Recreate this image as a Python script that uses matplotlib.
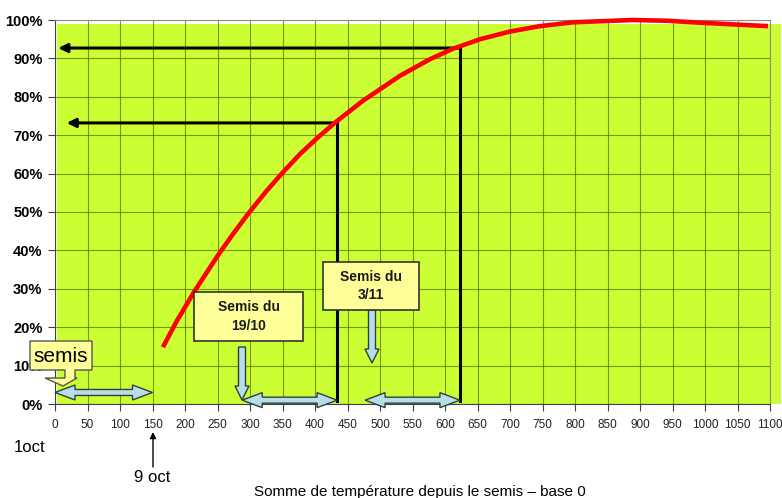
import matplotlib
matplotlib.use("Agg")
import matplotlib.pyplot as plt
from matplotlib.patches import Polygon, Rectangle
from matplotlib.transforms import IdentityTransform
from matplotlib.ticker import PercentFormatter, MultipleLocator

plt.rcParams['font.family'] = ['Liberation Sans', 'DejaVu Sans']

# data
curve_x = [166, 187, 214, 249, 274, 297, 326, 351, 377, 403, 431, 474, 531, 577,
           612, 654, 700, 746, 797, 889, 942, 992, 1097]
curve_y = [0.148, 0.215, 0.292, 0.383, 0.443, 0.495, 0.556, 0.604, 0.651, 0.692, 0.733, 0.790,
           0.855, 0.898, 0.925, 0.950, 0.970, 0.984, 0.994, 1.0, 0.998, 0.993, 0.984]

# sowing periods: (start, end, height of double arrow)
periods = [(0, 150, 0.03), (288, 434, 0.01), (477, 623, 0.01)]
# readings on the curve: (x, y, arrow end x)
readings = [(434, 0.732, 18), (623, 0.927, 5)]
boxes = [("Semis du\n19/10", 194, 292, 303, 341), ("Semis du\n3/11", 323, 262, 419, 310)]
down_arrows = [(242, 347, 400), (372, 310, 363)]

W, H = 782, 498
fig = plt.figure(figsize=(W / 100, H / 100), dpi=100)
ax = fig.add_axes([55 / W, (H - 404) / H, 715 / W, 384 / H])
ax.set_xlim(0, 1100)
ax.set_ylim(0, 1)
ax.set_facecolor('none')

# green plot area (slightly offset as in the original), behind the axes
fig.patches.append(Rectangle((57, H - 404), 724, 380, transform=IdentityTransform(),
                             facecolor='#CCFF33', edgecolor='none', zorder=-1))

ax.xaxis.set_major_locator(MultipleLocator(50))
ax.yaxis.set_major_locator(MultipleLocator(0.1))
ax.yaxis.set_major_formatter(PercentFormatter(1.0, decimals=0))
ax.grid(True, color='#556b00', linewidth=0.8, alpha=0.7)
ax.set_axisbelow(True)
for s in ['top', 'right']:
    ax.spines[s].set_color('#8c8c8c')
for s in ['left', 'bottom']:
    ax.spines[s].set_color('#404040')
ax.tick_params(axis='y', labelsize=10.5, length=5, color='#404040', pad=4)
ax.tick_params(axis='x', labelsize=8.5, length=5, color='#404040', pad=6, labelcolor='#222222')
for lb in ax.get_yticklabels():
    lb.set_fontweight('bold')

ax.plot(curve_x, curve_y, color='#ff0000', linewidth=3.3, solid_capstyle='butt',
        solid_joinstyle='round', clip_on=False, zorder=4)

# black reading lines
for xr, yr, xe in readings:
    ax.plot([xr, xr], [0.007, yr], color='black', linewidth=2.2, zorder=3)
    ax.annotate('', xy=(xe, yr), xytext=(xr, yr),
                arrowprops=dict(arrowstyle='-|>', color='black', lw=2.2,
                                mutation_scale=13, shrinkA=0, shrinkB=0), zorder=3)


def to_px(x, y):
    return ax.transData.transform((x, y))


def double_arrow(x0, x1, y):
    (p0, py), (p1, _) = to_px(x0, y), to_px(x1, y)
    hl, hh, sh = 20, 7.5, 3
    pts = [(p0, py), (p0 + hl, py + hh), (p0 + hl, py + sh), (p1 - hl, py + sh), (p1 - hl, py + hh),
           (p1, py), (p1 - hl, py - hh), (p1 - hl, py - sh), (p0 + hl, py - sh), (p0 + hl, py - hh)]
    fig.patches.append(Polygon(pts, closed=True, transform=IdentityTransform(),
                               facecolor='#b7dde8', edgecolor='#2f3f3f', linewidth=1, zorder=5))


for x0, x1, y in periods:
    double_arrow(x0, x1, y)


def down_arrow(xc, ytop, ytip):
    xc, ytop, ytip = xc, H - ytop, H - ytip
    sw, hw, hl = 3.5, 7, 14
    pts = [(xc - sw, ytop), (xc + sw, ytop), (xc + sw, ytip + hl), (xc + hw, ytip + hl), (xc, ytip),
           (xc - hw, ytip + hl), (xc - sw, ytip + hl)]
    fig.patches.append(Polygon(pts, closed=True, transform=IdentityTransform(),
                               facecolor='#b7dde8', edgecolor='#2f3f3f', linewidth=1, zorder=5))


for xc, yt, yb in down_arrows:
    down_arrow(xc, yt, yb)

# text boxes
for txt, x0, y0, x1, y1 in boxes:
    fig.patches.append(Rectangle((x0, H - y1), x1 - x0, y1 - y0, transform=IdentityTransform(),
                                 facecolor='#ffff99', edgecolor='#333333', linewidth=1.2, zorder=6))
    fig.text((x0 + x1) / 2 / W, 1 - (y0 + y1) / 2 / H, txt, ha='center', va='center',
             fontsize=10, fontweight='bold', linespacing=1.4, color='#1a1a1a', zorder=7)

# "semis" callout
semis = [(30, 341), (92, 341), (92, 370), (75, 370), (75, 378), (77, 378), (63, 386),
         (45, 378), (65, 378), (65, 370), (30, 370)]
fig.patches.append(Polygon([(x, H - y) for x, y in semis], closed=True, transform=IdentityTransform(),
                           facecolor='#ffff99', edgecolor='#555555', linewidth=1, zorder=6))
fig.text(61 / W, 1 - 356 / H, 'semis', ha='center', va='center', fontsize=15, zorder=7)

# date labels under the axis
fig.text(30 / W, 1 - 447 / H, '1oct', ha='center', va='center', fontsize=12)
fig.text(152 / W, 1 - 477 / H, '9 oct', ha='center', va='center', fontsize=12)
ax.annotate('', xy=(153 / W, 1 - 432 / H), xytext=(153 / W, 1 - 467 / H),
            xycoords='figure fraction', textcoords='figure fraction',
            arrowprops=dict(arrowstyle='-|>', color='black', lw=1, mutation_scale=9,
                            shrinkA=0, shrinkB=0))
fig.text(420 / W, 1 - 492 / H, 'Somme de température depuis le semis – base 0',
         ha='center', va='center', fontsize=11)

fig.savefig('out.png', dpi=100)
